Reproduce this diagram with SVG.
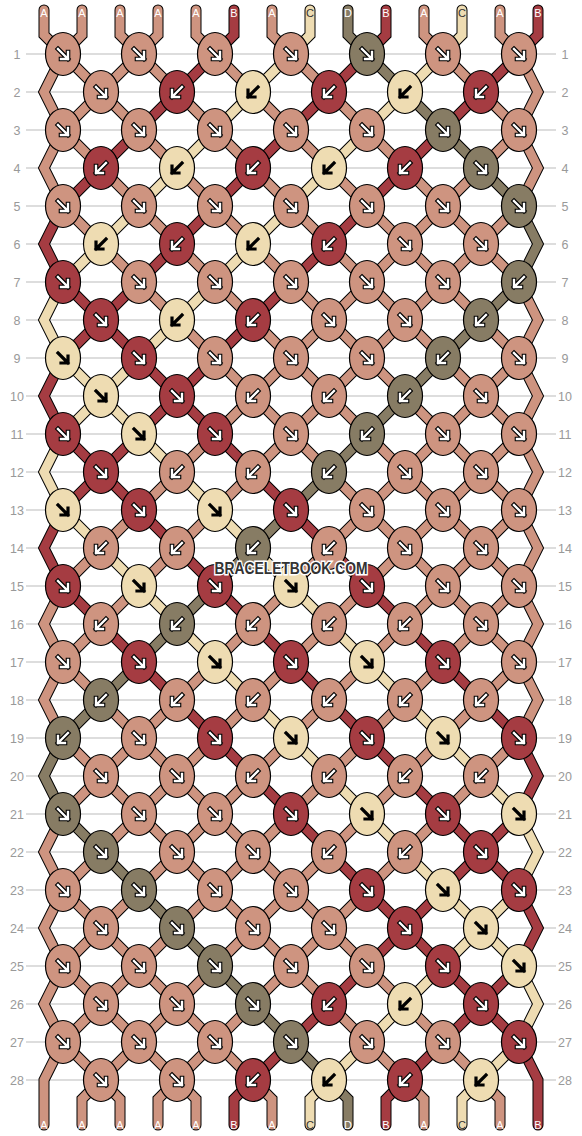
<svg xmlns="http://www.w3.org/2000/svg" xmlns:xlink="http://www.w3.org/1999/xlink" width="582" height="1136" viewBox="0 0 582 1136">
<style>
.rl{stroke:#bbb;stroke-width:1}
.rn{font-family:"Liberation Sans",Arial,sans-serif;font-size:12.5px;fill:#999;text-anchor:middle}
.o{fill:none;stroke:#000;stroke-width:11;stroke-linejoin:miter;stroke-linecap:round}
.s{fill:none;stroke-width:9;stroke-linejoin:miter;stroke-linecap:round}
.sA{stroke:#CE9480}.sB{stroke:#A53C42}.sC{stroke:#EEDCB2}.sD{stroke:#877C64}
.A{fill:#CE9480}.B{fill:#A53C42}.C{fill:#EEDCB2}.D{fill:#877C64}
.lb{font-family:"Liberation Sans",Arial,sans-serif;font-size:11px;text-anchor:middle;fill:#fff}
.lb.dk{fill:#333}
.ao{fill:none;stroke:#000;stroke-width:4.6;stroke-linecap:square;stroke-linejoin:miter}
.ai{fill:none;stroke:#fff;stroke-width:2.4;stroke-linecap:square;stroke-linejoin:miter}
.ak{fill:none;stroke:#000;stroke-width:3.2;stroke-linecap:square;stroke-linejoin:miter}
.wm{font-family:"Liberation Sans",Arial,sans-serif;font-weight:bold;font-size:16.5px;fill:#333;stroke:#fff;stroke-width:3;paint-order:stroke;text-anchor:middle}
</style>
<defs>
<ellipse id="e" rx="17.5" ry="21.5" stroke="#000" stroke-width="1.2"/>
<path id="pf" d="M-5,-5L5,5M5,-2V5H-2"/>
<path id="pb" d="M5,-5L-5,5M-5,-2V5H2"/>
<g id="fw"><use href="#pf" class="ao"/><use href="#pf" class="ai"/></g>
<g id="bw"><use href="#pb" class="ao"/><use href="#pb" class="ai"/></g>
<g id="fk"><use href="#pf" class="ak"/></g>
<g id="bk"><use href="#pb" class="ak"/></g>
<path id="p1" d="M44,10V35L63,54L519,510L538,548L519,586L63,1042L44,1080V1125"/>
<path id="p2" d="M82,10V35L63,54L44,92L63,130L519,586L538,624L519,662L101,1080L82,1099V1125"/>
<path id="p3" d="M120,10V35L139,54L519,434L538,472L519,510L63,966L44,1004L63,1042L101,1080L120,1099V1125"/>
<path id="p4" d="M158,10V35L139,54L63,130L44,168L63,206L519,662L538,700L519,738L177,1080L158,1099V1125"/>
<path id="p5" d="M196,10V35L215,54L519,358L538,396L519,434L63,890L44,928L63,966L177,1080L196,1099V1125"/>
<path id="p6" d="M234,10V35L215,54L63,206L44,244L63,282L519,738L538,776L519,814L253,1080L234,1099V1125"/>
<path id="p7" d="M272,10V35L291,54L519,282L538,320L519,358L63,814L44,852L63,890L253,1080L272,1099V1125"/>
<path id="p8" d="M310,10V35L291,54L63,282L44,320L63,358L519,814L538,852L519,890L329,1080L310,1099V1125"/>
<path id="p9" d="M348,10V35L367,54L519,206L538,244L519,282L63,738L44,776L63,814L329,1080L348,1099V1125"/>
<path id="p10" d="M386,10V35L367,54L63,358L44,396L63,434L519,890L538,928L519,966L405,1080L386,1099V1125"/>
<path id="p11" d="M424,10V35L443,54L519,130L538,168L519,206L63,662L44,700L63,738L405,1080L424,1099V1125"/>
<path id="p12" d="M462,10V35L443,54L63,434L44,472L63,510L519,966L538,1004L519,1042L481,1080L462,1099V1125"/>
<path id="p13" d="M500,10V35L519,54L538,92L519,130L63,586L44,624L63,662L481,1080L500,1099V1125"/>
<path id="p14" d="M538,10V35L519,54L63,510L44,548L63,586L519,1042L538,1080V1125"/>
</defs>
<rect width="582" height="1136" fill="#fff"/>
<g id="grid">
<g class="rl">
<line x1="26" y1="54" x2="556" y2="54"/><line x1="26" y1="92" x2="556" y2="92"/><line x1="26" y1="130" x2="556" y2="130"/><line x1="26" y1="168" x2="556" y2="168"/><line x1="26" y1="206" x2="556" y2="206"/><line x1="26" y1="244" x2="556" y2="244"/><line x1="26" y1="282" x2="556" y2="282"/><line x1="26" y1="320" x2="556" y2="320"/><line x1="26" y1="358" x2="556" y2="358"/><line x1="26" y1="396" x2="556" y2="396"/><line x1="26" y1="434" x2="556" y2="434"/><line x1="26" y1="472" x2="556" y2="472"/><line x1="26" y1="510" x2="556" y2="510"/><line x1="26" y1="548" x2="556" y2="548"/><line x1="26" y1="586" x2="556" y2="586"/><line x1="26" y1="624" x2="556" y2="624"/><line x1="26" y1="662" x2="556" y2="662"/><line x1="26" y1="700" x2="556" y2="700"/><line x1="26" y1="738" x2="556" y2="738"/><line x1="26" y1="776" x2="556" y2="776"/><line x1="26" y1="814" x2="556" y2="814"/><line x1="26" y1="852" x2="556" y2="852"/><line x1="26" y1="890" x2="556" y2="890"/><line x1="26" y1="928" x2="556" y2="928"/><line x1="26" y1="966" x2="556" y2="966"/><line x1="26" y1="1004" x2="556" y2="1004"/><line x1="26" y1="1042" x2="556" y2="1042"/><line x1="26" y1="1080" x2="556" y2="1080"/>
</g>
<g class="rn">
<text x="17" y="58.5">1</text><text x="17" y="96.5">2</text><text x="17" y="134.5">3</text><text x="17" y="172.5">4</text><text x="17" y="210.5">5</text><text x="17" y="248.5">6</text><text x="17" y="286.5">7</text><text x="17" y="324.5">8</text><text x="17" y="362.5">9</text><text x="17" y="400.5">10</text><text x="17" y="438.5">11</text><text x="17" y="476.5">12</text><text x="17" y="514.5">13</text><text x="17" y="552.5">14</text><text x="17" y="590.5">15</text><text x="17" y="628.5">16</text><text x="17" y="666.5">17</text><text x="17" y="704.5">18</text><text x="17" y="742.5">19</text><text x="17" y="780.5">20</text><text x="17" y="818.5">21</text><text x="17" y="856.5">22</text><text x="17" y="894.5">23</text><text x="17" y="932.5">24</text><text x="17" y="970.5">25</text><text x="17" y="1008.5">26</text><text x="17" y="1046.5">27</text><text x="17" y="1084.5">28</text>
<text x="565" y="58.5">1</text><text x="565" y="96.5">2</text><text x="565" y="134.5">3</text><text x="565" y="172.5">4</text><text x="565" y="210.5">5</text><text x="565" y="248.5">6</text><text x="565" y="286.5">7</text><text x="565" y="324.5">8</text><text x="565" y="362.5">9</text><text x="565" y="400.5">10</text><text x="565" y="438.5">11</text><text x="565" y="476.5">12</text><text x="565" y="514.5">13</text><text x="565" y="552.5">14</text><text x="565" y="590.5">15</text><text x="565" y="628.5">16</text><text x="565" y="666.5">17</text><text x="565" y="704.5">18</text><text x="565" y="742.5">19</text><text x="565" y="780.5">20</text><text x="565" y="818.5">21</text><text x="565" y="856.5">22</text><text x="565" y="894.5">23</text><text x="565" y="932.5">24</text><text x="565" y="970.5">25</text><text x="565" y="1008.5">26</text><text x="565" y="1046.5">27</text><text x="565" y="1084.5">28</text>
</g>
</g>
<g id="strands">
<use href="#p1" class="o"/><use href="#p2" class="o"/><use href="#p3" class="o"/><use href="#p4" class="o"/><use href="#p5" class="o"/><use href="#p6" class="o"/><use href="#p7" class="o"/><use href="#p8" class="o"/><use href="#p9" class="o"/><use href="#p10" class="o"/><use href="#p11" class="o"/><use href="#p12" class="o"/><use href="#p13" class="o"/><use href="#p14" class="o"/>
<use href="#p1" class="s sA"/><use href="#p2" class="s sA"/><use href="#p3" class="s sA"/><use href="#p4" class="s sA"/><use href="#p5" class="s sA"/><use href="#p6" class="s sB"/><use href="#p7" class="s sA"/><use href="#p8" class="s sC"/><use href="#p9" class="s sD"/><use href="#p10" class="s sB"/><use href="#p11" class="s sA"/><use href="#p12" class="s sC"/><use href="#p13" class="s sA"/><use href="#p14" class="s sB"/>
</g>
<g id="labels">
<text class="lb" x="44" y="17">A</text><text class="lb" x="82" y="17">A</text><text class="lb" x="120" y="17">A</text><text class="lb" x="158" y="17">A</text><text class="lb" x="196" y="17">A</text><text class="lb" x="234" y="17">B</text><text class="lb" x="272" y="17">A</text><text class="lb dk" x="310" y="17">C</text><text class="lb" x="348" y="17">D</text><text class="lb" x="386" y="17">B</text><text class="lb" x="424" y="17">A</text><text class="lb dk" x="462" y="17">C</text><text class="lb" x="500" y="17">A</text><text class="lb" x="538" y="17">B</text>
<text class="lb" x="44" y="1129">A</text><text class="lb" x="82" y="1129">A</text><text class="lb" x="120" y="1129">A</text><text class="lb" x="158" y="1129">A</text><text class="lb" x="196" y="1129">A</text><text class="lb" x="234" y="1129">B</text><text class="lb" x="272" y="1129">A</text><text class="lb dk" x="310" y="1129">C</text><text class="lb" x="348" y="1129">D</text><text class="lb" x="386" y="1129">B</text><text class="lb" x="424" y="1129">A</text><text class="lb dk" x="462" y="1129">C</text><text class="lb" x="500" y="1129">A</text><text class="lb" x="538" y="1129">B</text>
</g>
<g id="knots">
<g id="k1-1" transform="translate(63,54)"><use href="#e" class="A"/><use href="#fw"/></g>
<g id="k1-2" transform="translate(139,54)"><use href="#e" class="A"/><use href="#fw"/></g>
<g id="k1-3" transform="translate(215,54)"><use href="#e" class="A"/><use href="#fw"/></g>
<g id="k1-4" transform="translate(291,54)"><use href="#e" class="A"/><use href="#fw"/></g>
<g id="k1-5" transform="translate(367,54)"><use href="#e" class="D"/><use href="#fw"/></g>
<g id="k1-6" transform="translate(443,54)"><use href="#e" class="A"/><use href="#fw"/></g>
<g id="k1-7" transform="translate(519,54)"><use href="#e" class="A"/><use href="#fw"/></g>
<g id="k2-1" transform="translate(101,92)"><use href="#e" class="A"/><use href="#fw"/></g>
<g id="k2-2" transform="translate(177,92)"><use href="#e" class="B"/><use href="#bw"/></g>
<g id="k2-3" transform="translate(253,92)"><use href="#e" class="C"/><use href="#bk"/></g>
<g id="k2-4" transform="translate(329,92)"><use href="#e" class="B"/><use href="#bw"/></g>
<g id="k2-5" transform="translate(405,92)"><use href="#e" class="C"/><use href="#bk"/></g>
<g id="k2-6" transform="translate(481,92)"><use href="#e" class="B"/><use href="#bw"/></g>
<g id="k3-1" transform="translate(63,130)"><use href="#e" class="A"/><use href="#fw"/></g>
<g id="k3-2" transform="translate(139,130)"><use href="#e" class="A"/><use href="#fw"/></g>
<g id="k3-3" transform="translate(215,130)"><use href="#e" class="A"/><use href="#fw"/></g>
<g id="k3-4" transform="translate(291,130)"><use href="#e" class="A"/><use href="#fw"/></g>
<g id="k3-5" transform="translate(367,130)"><use href="#e" class="A"/><use href="#fw"/></g>
<g id="k3-6" transform="translate(443,130)"><use href="#e" class="D"/><use href="#fw"/></g>
<g id="k3-7" transform="translate(519,130)"><use href="#e" class="A"/><use href="#fw"/></g>
<g id="k4-1" transform="translate(101,168)"><use href="#e" class="B"/><use href="#bw"/></g>
<g id="k4-2" transform="translate(177,168)"><use href="#e" class="C"/><use href="#bk"/></g>
<g id="k4-3" transform="translate(253,168)"><use href="#e" class="B"/><use href="#bw"/></g>
<g id="k4-4" transform="translate(329,168)"><use href="#e" class="C"/><use href="#bk"/></g>
<g id="k4-5" transform="translate(405,168)"><use href="#e" class="B"/><use href="#bw"/></g>
<g id="k4-6" transform="translate(481,168)"><use href="#e" class="D"/><use href="#fw"/></g>
<g id="k5-1" transform="translate(63,206)"><use href="#e" class="A"/><use href="#fw"/></g>
<g id="k5-2" transform="translate(139,206)"><use href="#e" class="A"/><use href="#fw"/></g>
<g id="k5-3" transform="translate(215,206)"><use href="#e" class="A"/><use href="#fw"/></g>
<g id="k5-4" transform="translate(291,206)"><use href="#e" class="A"/><use href="#fw"/></g>
<g id="k5-5" transform="translate(367,206)"><use href="#e" class="A"/><use href="#fw"/></g>
<g id="k5-6" transform="translate(443,206)"><use href="#e" class="A"/><use href="#fw"/></g>
<g id="k5-7" transform="translate(519,206)"><use href="#e" class="D"/><use href="#fw"/></g>
<g id="k6-1" transform="translate(101,244)"><use href="#e" class="C"/><use href="#bk"/></g>
<g id="k6-2" transform="translate(177,244)"><use href="#e" class="B"/><use href="#bw"/></g>
<g id="k6-3" transform="translate(253,244)"><use href="#e" class="C"/><use href="#bk"/></g>
<g id="k6-4" transform="translate(329,244)"><use href="#e" class="B"/><use href="#bw"/></g>
<g id="k6-5" transform="translate(405,244)"><use href="#e" class="A"/><use href="#fw"/></g>
<g id="k6-6" transform="translate(481,244)"><use href="#e" class="A"/><use href="#fw"/></g>
<g id="k7-1" transform="translate(63,282)"><use href="#e" class="B"/><use href="#fw"/></g>
<g id="k7-2" transform="translate(139,282)"><use href="#e" class="A"/><use href="#fw"/></g>
<g id="k7-3" transform="translate(215,282)"><use href="#e" class="A"/><use href="#fw"/></g>
<g id="k7-4" transform="translate(291,282)"><use href="#e" class="A"/><use href="#fw"/></g>
<g id="k7-5" transform="translate(367,282)"><use href="#e" class="A"/><use href="#fw"/></g>
<g id="k7-6" transform="translate(443,282)"><use href="#e" class="A"/><use href="#fw"/></g>
<g id="k7-7" transform="translate(519,282)"><use href="#e" class="D"/><use href="#bw"/></g>
<g id="k8-1" transform="translate(101,320)"><use href="#e" class="B"/><use href="#fw"/></g>
<g id="k8-2" transform="translate(177,320)"><use href="#e" class="C"/><use href="#bk"/></g>
<g id="k8-3" transform="translate(253,320)"><use href="#e" class="B"/><use href="#bw"/></g>
<g id="k8-4" transform="translate(329,320)"><use href="#e" class="A"/><use href="#fw"/></g>
<g id="k8-5" transform="translate(405,320)"><use href="#e" class="A"/><use href="#fw"/></g>
<g id="k8-6" transform="translate(481,320)"><use href="#e" class="D"/><use href="#bw"/></g>
<g id="k9-1" transform="translate(63,358)"><use href="#e" class="C"/><use href="#fk"/></g>
<g id="k9-2" transform="translate(139,358)"><use href="#e" class="B"/><use href="#fw"/></g>
<g id="k9-3" transform="translate(215,358)"><use href="#e" class="A"/><use href="#fw"/></g>
<g id="k9-4" transform="translate(291,358)"><use href="#e" class="A"/><use href="#fw"/></g>
<g id="k9-5" transform="translate(367,358)"><use href="#e" class="A"/><use href="#fw"/></g>
<g id="k9-6" transform="translate(443,358)"><use href="#e" class="D"/><use href="#bw"/></g>
<g id="k9-7" transform="translate(519,358)"><use href="#e" class="A"/><use href="#fw"/></g>
<g id="k10-1" transform="translate(101,396)"><use href="#e" class="C"/><use href="#fk"/></g>
<g id="k10-2" transform="translate(177,396)"><use href="#e" class="B"/><use href="#fw"/></g>
<g id="k10-3" transform="translate(253,396)"><use href="#e" class="A"/><use href="#bw"/></g>
<g id="k10-4" transform="translate(329,396)"><use href="#e" class="A"/><use href="#bw"/></g>
<g id="k10-5" transform="translate(405,396)"><use href="#e" class="D"/><use href="#bw"/></g>
<g id="k10-6" transform="translate(481,396)"><use href="#e" class="A"/><use href="#fw"/></g>
<g id="k11-1" transform="translate(63,434)"><use href="#e" class="B"/><use href="#fw"/></g>
<g id="k11-2" transform="translate(139,434)"><use href="#e" class="C"/><use href="#fk"/></g>
<g id="k11-3" transform="translate(215,434)"><use href="#e" class="B"/><use href="#fw"/></g>
<g id="k11-4" transform="translate(291,434)"><use href="#e" class="A"/><use href="#fw"/></g>
<g id="k11-5" transform="translate(367,434)"><use href="#e" class="D"/><use href="#bw"/></g>
<g id="k11-6" transform="translate(443,434)"><use href="#e" class="A"/><use href="#fw"/></g>
<g id="k11-7" transform="translate(519,434)"><use href="#e" class="A"/><use href="#fw"/></g>
<g id="k12-1" transform="translate(101,472)"><use href="#e" class="B"/><use href="#fw"/></g>
<g id="k12-2" transform="translate(177,472)"><use href="#e" class="A"/><use href="#bw"/></g>
<g id="k12-3" transform="translate(253,472)"><use href="#e" class="A"/><use href="#bw"/></g>
<g id="k12-4" transform="translate(329,472)"><use href="#e" class="D"/><use href="#bw"/></g>
<g id="k12-5" transform="translate(405,472)"><use href="#e" class="A"/><use href="#fw"/></g>
<g id="k12-6" transform="translate(481,472)"><use href="#e" class="A"/><use href="#fw"/></g>
<g id="k13-1" transform="translate(63,510)"><use href="#e" class="C"/><use href="#fk"/></g>
<g id="k13-2" transform="translate(139,510)"><use href="#e" class="B"/><use href="#fw"/></g>
<g id="k13-3" transform="translate(215,510)"><use href="#e" class="C"/><use href="#fk"/></g>
<g id="k13-4" transform="translate(291,510)"><use href="#e" class="B"/><use href="#fw"/></g>
<g id="k13-5" transform="translate(367,510)"><use href="#e" class="A"/><use href="#fw"/></g>
<g id="k13-6" transform="translate(443,510)"><use href="#e" class="A"/><use href="#fw"/></g>
<g id="k13-7" transform="translate(519,510)"><use href="#e" class="A"/><use href="#fw"/></g>
<g id="k14-1" transform="translate(101,548)"><use href="#e" class="A"/><use href="#bw"/></g>
<g id="k14-2" transform="translate(177,548)"><use href="#e" class="A"/><use href="#bw"/></g>
<g id="k14-3" transform="translate(253,548)"><use href="#e" class="D"/><use href="#bw"/></g>
<g id="k14-4" transform="translate(329,548)"><use href="#e" class="A"/><use href="#bw"/></g>
<g id="k14-5" transform="translate(405,548)"><use href="#e" class="A"/><use href="#fw"/></g>
<g id="k14-6" transform="translate(481,548)"><use href="#e" class="A"/><use href="#fw"/></g>
<g id="k15-1" transform="translate(63,586)"><use href="#e" class="B"/><use href="#fw"/></g>
<g id="k15-2" transform="translate(139,586)"><use href="#e" class="C"/><use href="#fk"/></g>
<g id="k15-3" transform="translate(215,586)"><use href="#e" class="B"/><use href="#fw"/></g>
<g id="k15-4" transform="translate(291,586)"><use href="#e" class="C"/><use href="#fk"/></g>
<g id="k15-5" transform="translate(367,586)"><use href="#e" class="B"/><use href="#fw"/></g>
<g id="k15-6" transform="translate(443,586)"><use href="#e" class="A"/><use href="#fw"/></g>
<g id="k15-7" transform="translate(519,586)"><use href="#e" class="A"/><use href="#fw"/></g>
<g id="k16-1" transform="translate(101,624)"><use href="#e" class="A"/><use href="#bw"/></g>
<g id="k16-2" transform="translate(177,624)"><use href="#e" class="D"/><use href="#bw"/></g>
<g id="k16-3" transform="translate(253,624)"><use href="#e" class="A"/><use href="#bw"/></g>
<g id="k16-4" transform="translate(329,624)"><use href="#e" class="A"/><use href="#bw"/></g>
<g id="k16-5" transform="translate(405,624)"><use href="#e" class="A"/><use href="#bw"/></g>
<g id="k16-6" transform="translate(481,624)"><use href="#e" class="A"/><use href="#fw"/></g>
<g id="k17-1" transform="translate(63,662)"><use href="#e" class="A"/><use href="#fw"/></g>
<g id="k17-2" transform="translate(139,662)"><use href="#e" class="B"/><use href="#fw"/></g>
<g id="k17-3" transform="translate(215,662)"><use href="#e" class="C"/><use href="#fk"/></g>
<g id="k17-4" transform="translate(291,662)"><use href="#e" class="B"/><use href="#fw"/></g>
<g id="k17-5" transform="translate(367,662)"><use href="#e" class="C"/><use href="#fk"/></g>
<g id="k17-6" transform="translate(443,662)"><use href="#e" class="B"/><use href="#fw"/></g>
<g id="k17-7" transform="translate(519,662)"><use href="#e" class="A"/><use href="#fw"/></g>
<g id="k18-1" transform="translate(101,700)"><use href="#e" class="D"/><use href="#bw"/></g>
<g id="k18-2" transform="translate(177,700)"><use href="#e" class="A"/><use href="#bw"/></g>
<g id="k18-3" transform="translate(253,700)"><use href="#e" class="A"/><use href="#bw"/></g>
<g id="k18-4" transform="translate(329,700)"><use href="#e" class="A"/><use href="#bw"/></g>
<g id="k18-5" transform="translate(405,700)"><use href="#e" class="A"/><use href="#bw"/></g>
<g id="k18-6" transform="translate(481,700)"><use href="#e" class="A"/><use href="#bw"/></g>
<g id="k19-1" transform="translate(63,738)"><use href="#e" class="D"/><use href="#bw"/></g>
<g id="k19-2" transform="translate(139,738)"><use href="#e" class="A"/><use href="#fw"/></g>
<g id="k19-3" transform="translate(215,738)"><use href="#e" class="B"/><use href="#fw"/></g>
<g id="k19-4" transform="translate(291,738)"><use href="#e" class="C"/><use href="#fk"/></g>
<g id="k19-5" transform="translate(367,738)"><use href="#e" class="B"/><use href="#fw"/></g>
<g id="k19-6" transform="translate(443,738)"><use href="#e" class="C"/><use href="#fk"/></g>
<g id="k19-7" transform="translate(519,738)"><use href="#e" class="B"/><use href="#fw"/></g>
<g id="k20-1" transform="translate(101,776)"><use href="#e" class="A"/><use href="#fw"/></g>
<g id="k20-2" transform="translate(177,776)"><use href="#e" class="A"/><use href="#fw"/></g>
<g id="k20-3" transform="translate(253,776)"><use href="#e" class="A"/><use href="#bw"/></g>
<g id="k20-4" transform="translate(329,776)"><use href="#e" class="A"/><use href="#bw"/></g>
<g id="k20-5" transform="translate(405,776)"><use href="#e" class="A"/><use href="#bw"/></g>
<g id="k20-6" transform="translate(481,776)"><use href="#e" class="A"/><use href="#bw"/></g>
<g id="k21-1" transform="translate(63,814)"><use href="#e" class="D"/><use href="#fw"/></g>
<g id="k21-2" transform="translate(139,814)"><use href="#e" class="A"/><use href="#fw"/></g>
<g id="k21-3" transform="translate(215,814)"><use href="#e" class="A"/><use href="#fw"/></g>
<g id="k21-4" transform="translate(291,814)"><use href="#e" class="B"/><use href="#fw"/></g>
<g id="k21-5" transform="translate(367,814)"><use href="#e" class="C"/><use href="#fk"/></g>
<g id="k21-6" transform="translate(443,814)"><use href="#e" class="B"/><use href="#fw"/></g>
<g id="k21-7" transform="translate(519,814)"><use href="#e" class="C"/><use href="#fk"/></g>
<g id="k22-1" transform="translate(101,852)"><use href="#e" class="D"/><use href="#fw"/></g>
<g id="k22-2" transform="translate(177,852)"><use href="#e" class="A"/><use href="#fw"/></g>
<g id="k22-3" transform="translate(253,852)"><use href="#e" class="A"/><use href="#fw"/></g>
<g id="k22-4" transform="translate(329,852)"><use href="#e" class="A"/><use href="#bw"/></g>
<g id="k22-5" transform="translate(405,852)"><use href="#e" class="A"/><use href="#bw"/></g>
<g id="k22-6" transform="translate(481,852)"><use href="#e" class="B"/><use href="#fw"/></g>
<g id="k23-1" transform="translate(63,890)"><use href="#e" class="A"/><use href="#fw"/></g>
<g id="k23-2" transform="translate(139,890)"><use href="#e" class="D"/><use href="#fw"/></g>
<g id="k23-3" transform="translate(215,890)"><use href="#e" class="A"/><use href="#fw"/></g>
<g id="k23-4" transform="translate(291,890)"><use href="#e" class="A"/><use href="#fw"/></g>
<g id="k23-5" transform="translate(367,890)"><use href="#e" class="B"/><use href="#fw"/></g>
<g id="k23-6" transform="translate(443,890)"><use href="#e" class="C"/><use href="#fk"/></g>
<g id="k23-7" transform="translate(519,890)"><use href="#e" class="B"/><use href="#fw"/></g>
<g id="k24-1" transform="translate(101,928)"><use href="#e" class="A"/><use href="#fw"/></g>
<g id="k24-2" transform="translate(177,928)"><use href="#e" class="D"/><use href="#fw"/></g>
<g id="k24-3" transform="translate(253,928)"><use href="#e" class="A"/><use href="#fw"/></g>
<g id="k24-4" transform="translate(329,928)"><use href="#e" class="A"/><use href="#fw"/></g>
<g id="k24-5" transform="translate(405,928)"><use href="#e" class="B"/><use href="#fw"/></g>
<g id="k24-6" transform="translate(481,928)"><use href="#e" class="C"/><use href="#fk"/></g>
<g id="k25-1" transform="translate(63,966)"><use href="#e" class="A"/><use href="#fw"/></g>
<g id="k25-2" transform="translate(139,966)"><use href="#e" class="A"/><use href="#fw"/></g>
<g id="k25-3" transform="translate(215,966)"><use href="#e" class="D"/><use href="#fw"/></g>
<g id="k25-4" transform="translate(291,966)"><use href="#e" class="A"/><use href="#fw"/></g>
<g id="k25-5" transform="translate(367,966)"><use href="#e" class="A"/><use href="#fw"/></g>
<g id="k25-6" transform="translate(443,966)"><use href="#e" class="B"/><use href="#fw"/></g>
<g id="k25-7" transform="translate(519,966)"><use href="#e" class="C"/><use href="#fk"/></g>
<g id="k26-1" transform="translate(101,1004)"><use href="#e" class="A"/><use href="#fw"/></g>
<g id="k26-2" transform="translate(177,1004)"><use href="#e" class="A"/><use href="#fw"/></g>
<g id="k26-3" transform="translate(253,1004)"><use href="#e" class="D"/><use href="#fw"/></g>
<g id="k26-4" transform="translate(329,1004)"><use href="#e" class="B"/><use href="#bw"/></g>
<g id="k26-5" transform="translate(405,1004)"><use href="#e" class="C"/><use href="#bk"/></g>
<g id="k26-6" transform="translate(481,1004)"><use href="#e" class="B"/><use href="#fw"/></g>
<g id="k27-1" transform="translate(63,1042)"><use href="#e" class="A"/><use href="#fw"/></g>
<g id="k27-2" transform="translate(139,1042)"><use href="#e" class="A"/><use href="#fw"/></g>
<g id="k27-3" transform="translate(215,1042)"><use href="#e" class="A"/><use href="#fw"/></g>
<g id="k27-4" transform="translate(291,1042)"><use href="#e" class="D"/><use href="#fw"/></g>
<g id="k27-5" transform="translate(367,1042)"><use href="#e" class="A"/><use href="#fw"/></g>
<g id="k27-6" transform="translate(443,1042)"><use href="#e" class="A"/><use href="#fw"/></g>
<g id="k27-7" transform="translate(519,1042)"><use href="#e" class="B"/><use href="#fw"/></g>
<g id="k28-1" transform="translate(101,1080)"><use href="#e" class="A"/><use href="#fw"/></g>
<g id="k28-2" transform="translate(177,1080)"><use href="#e" class="A"/><use href="#fw"/></g>
<g id="k28-3" transform="translate(253,1080)"><use href="#e" class="B"/><use href="#bw"/></g>
<g id="k28-4" transform="translate(329,1080)"><use href="#e" class="C"/><use href="#bk"/></g>
<g id="k28-5" transform="translate(405,1080)"><use href="#e" class="B"/><use href="#bw"/></g>
<g id="k28-6" transform="translate(481,1080)"><use href="#e" class="C"/><use href="#bk"/></g>
</g>
<text id="watermark" class="wm" x="291" y="574" textLength="153" lengthAdjust="spacingAndGlyphs">BRACELETBOOK.COM</text>
</svg>
